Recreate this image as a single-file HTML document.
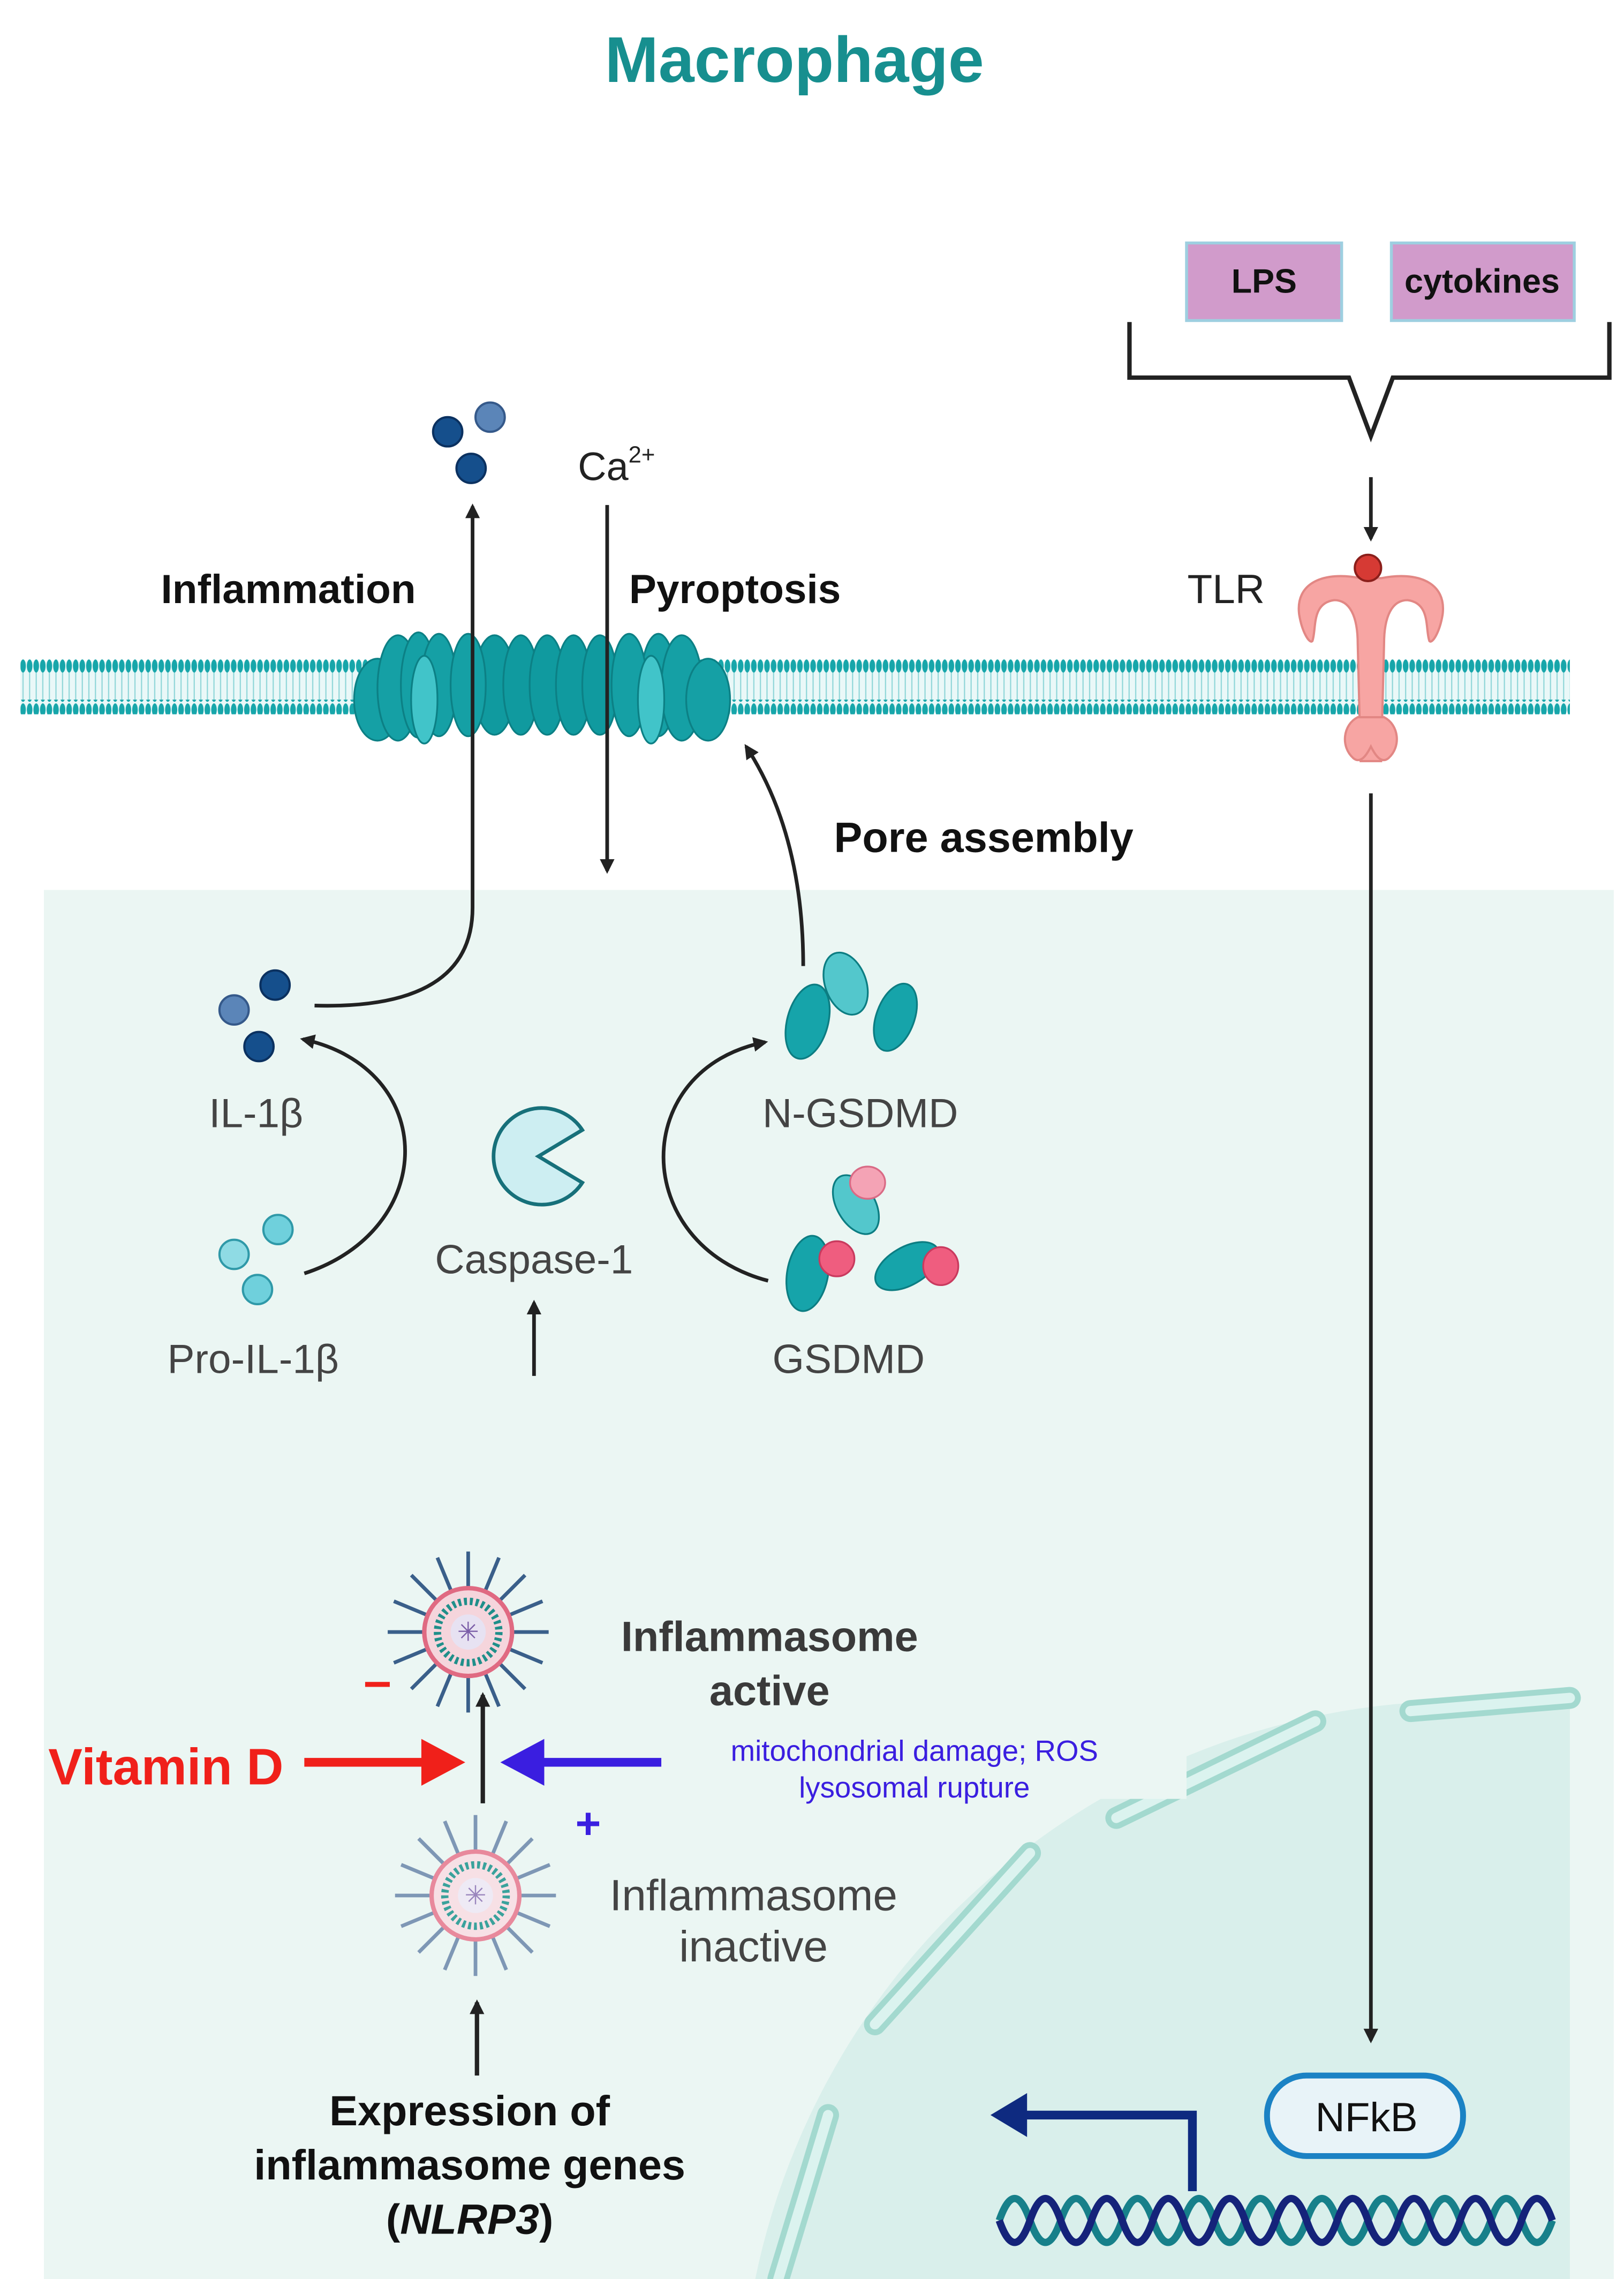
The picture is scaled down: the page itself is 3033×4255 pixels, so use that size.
<!DOCTYPE html>
<html><head><meta charset="utf-8"><style>
html,body{margin:0;padding:0;background:#fff;width:3033px;height:4255px;overflow:hidden}
svg{display:block}
text{font-family:"Liberation Sans",sans-serif}
</style></head><body>
<svg width="3033" height="4255" viewBox="0 0 1110 1557" preserveAspectRatio="none" xmlns="http://www.w3.org/2000/svg">
<defs>
<marker id="ah" markerWidth="10" markerHeight="10" refX="8" refY="5" orient="auto" markerUnits="userSpaceOnUse"><path d="M0,0 L10,5 L0,10 Z" fill="#222"/></marker>
<pattern id="heads" width="4.5" height="10" patternUnits="userSpaceOnUse"><ellipse cx="2.25" cy="5" rx="1.9" ry="4.5" fill="#17a6aa"/></pattern>
<pattern id="tails" width="4.5" height="10" patternUnits="userSpaceOnUse"><line x1="2.25" y1="0" x2="2.25" y2="10" stroke="#8fd6d8" stroke-width="0.8"/></pattern>
<line id="sp" x1="0" y1="-30" x2="0" y2="-55" stroke="#3a5f8a" stroke-width="2.5"/>
<line id="sp2" x1="0" y1="-30" x2="0" y2="-55" stroke="#7e97b5" stroke-width="2.5"/>
<clipPath id="nc"><rect x="30" y="608" width="1043" height="949"/></clipPath>
</defs>

<text x="543" y="56" text-anchor="middle" font-size="44" font-weight="bold" fill="#178f8f">Macrophage</text>

<rect x="811" y="166" width="106" height="53" fill="#d19bcb" stroke="#9ecfe0" stroke-width="2"/>
<text x="864" y="200" text-anchor="middle" font-size="23" font-weight="bold" fill="#111">LPS</text>
<rect x="951" y="166" width="125" height="53" fill="#d19bcb" stroke="#9ecfe0" stroke-width="2"/>
<text x="1013" y="200" text-anchor="middle" font-size="23" font-weight="bold" fill="#111">cytokines</text>
<path d="M772,220 L772,258 L922,258 L937,298 L952,258 L1100,258 L1100,220" fill="none" stroke="#222" stroke-width="3"/>
<line x1="937" y1="326" x2="937" y2="368" stroke="#222" stroke-width="2.5" marker-end="url(#ah)"/>
<text x="838" y="412" text-anchor="middle" font-size="28" fill="#222">TLR</text>

<!-- cytoplasm -->
<rect x="30" y="608" width="1073" height="949" fill="#ebf6f3"/>
<circle cx="1001" cy="1657" r="495" fill="#d9efeb" clip-path="url(#nc)"/>
<g stroke-linecap="round" fill="none">
<g stroke="#a3d9cf" stroke-width="15">
<path d="M532,1557 L566,1445"/><path d="M598,1383 L704,1266"/><path d="M763,1242 L899,1176"/><path d="M964,1169 L1073,1160"/>
</g>
<g stroke="#dbf3ef" stroke-width="7">
<path d="M532,1557 L566,1445"/><path d="M598,1383 L704,1266"/><path d="M763,1242 L899,1176"/><path d="M964,1169 L1073,1160"/>
</g>
</g>
<rect x="480" y="1180" width="331" height="49" fill="#ebf6f3"/>

<!-- membrane -->
<rect x="14" y="452" width="1059" height="34" fill="#eaf8f8"/>
<rect x="14" y="459" width="1059" height="20" fill="url(#tails)"/>
<rect x="14" y="450" width="1059" height="10" fill="url(#heads)"/>
<rect x="14" y="478" width="1059" height="10" fill="url(#heads)"/>

<!-- pore -->
<g stroke="#0c8085" stroke-width="1.2">
<ellipse cx="258" cy="478" rx="16" ry="28" fill="#15a0a5"/>
<ellipse cx="272" cy="470" rx="14" ry="36" fill="#15a0a5"/>
<ellipse cx="286" cy="468" rx="12" ry="36" fill="#15a0a5"/>
<ellipse cx="300" cy="468" rx="12" ry="35" fill="#15a0a5"/>
<ellipse cx="338" cy="468" rx="14" ry="34" fill="#109a9f"/>
<ellipse cx="356" cy="468" rx="12" ry="34" fill="#109a9f"/>
<ellipse cx="374" cy="468" rx="12" ry="34" fill="#109a9f"/>
<ellipse cx="392" cy="468" rx="12" ry="34" fill="#109a9f"/>
<ellipse cx="410" cy="468" rx="12" ry="34" fill="#109a9f"/>
<ellipse cx="450" cy="468" rx="12" ry="35" fill="#15a0a5"/>
<ellipse cx="466" cy="470" rx="14" ry="36" fill="#15a0a5"/>
<ellipse cx="484" cy="478" rx="15" ry="28" fill="#15a0a5"/>
<ellipse cx="320" cy="468" rx="12" ry="35" fill="#15a0a5"/>
<ellipse cx="430" cy="468" rx="12" ry="35" fill="#15a0a5"/>
<ellipse cx="290" cy="478" rx="9" ry="30" fill="#41c4c9"/>
<ellipse cx="445" cy="478" rx="9" ry="30" fill="#41c4c9"/>
</g>

<!-- TLR -->
<g fill="#f7a5a3" stroke="#e28784" stroke-width="1.5">
<path d="M930,395 C905,390 885,398 888,420 C890,432 895,440 897,438 C900,430 896,412 912,410 C922,410 928,420 928,440 L930,520 L944,520 L946,440 C946,420 952,410 962,410 C978,412 974,430 977,438 C979,440 984,432 986,420 C989,398 969,390 944,395 Z"/>
<path d="M928,490 C918,495 916,510 925,518 C930,522 934,516 937,510 C940,516 944,522 949,518 C958,510 956,495 946,490 Z"/>
</g>
<circle cx="935" cy="388" r="9" fill="#d63a34" stroke="#8b1f1b" stroke-width="1.5"/>

<text x="110" y="412" font-size="28" font-weight="bold" fill="#111">Inflammation</text>
<text x="430" y="412" font-size="28" font-weight="bold" fill="#111">Pyroptosis</text>
<text x="395" y="328" font-size="27" fill="#222">Ca<tspan font-size="16" dy="-12">2+</tspan></text>
<circle cx="306" cy="295" r="10" fill="#154f8c" stroke="#0b3160" stroke-width="1.5"/>
<circle cx="335" cy="285" r="10" fill="#5b85b8" stroke="#35598a" stroke-width="1.5"/>
<circle cx="322" cy="320" r="10" fill="#154f8c" stroke="#0b3160" stroke-width="1.5"/>

<path d="M215,687 Q323,690 323,620 L323,346" fill="none" stroke="#222" stroke-width="2.5" marker-end="url(#ah)"/>
<line x1="415" y1="345" x2="415" y2="595" stroke="#222" stroke-width="2.5" marker-end="url(#ah)"/>
<path d="M549,660 Q549,570 510,510" fill="none" stroke="#222" stroke-width="2.5" marker-end="url(#ah)"/>
<text x="570" y="582" font-size="29" font-weight="bold" fill="#111">Pore assembly</text>

<line x1="937" y1="542" x2="937" y2="1394" stroke="#222" stroke-width="2.5" marker-end="url(#ah)"/>
<rect x="866" y="1418" width="134" height="55" rx="27" fill="#e8f3f8" stroke="#1b82c4" stroke-width="4"/>
<text x="934" y="1456" text-anchor="middle" font-size="28" fill="#111">NFkB</text>

<!-- DNA -->
<path d="M683,1517 q10.5,-30 21,0 t21,0 t21,0 t21,0 t21,0 t21,0 t21,0 t21,0 t21,0 t21,0 t21,0 t21,0 t21,0 t21,0 t21,0 t21,0 t21,0 t21,0" fill="none" stroke="#17808a" stroke-width="5"/>
<path d="M683,1517 q10.5,30 21,0 t21,0 t21,0 t21,0 t21,0 t21,0 t21,0 t21,0 t21,0 t21,0 t21,0 t21,0 t21,0 t21,0 t21,0 t21,0 t21,0 t21,0" fill="none" stroke="#15237a" stroke-width="5"/>
<path d="M815,1497 L815,1445 L700,1445" fill="none" stroke="#0e2a80" stroke-width="6"/>
<path d="M677,1445 L702,1430 L702,1460 Z" fill="#0e2a80"/>

<!-- IL-1b -->
<circle cx="188" cy="673" r="10" fill="#154f8c" stroke="#0b3160" stroke-width="1.5"/>
<circle cx="160" cy="690" r="10" fill="#5b85b8" stroke="#35598a" stroke-width="1.5"/>
<circle cx="177" cy="715" r="10" fill="#154f8c" stroke="#0b3160" stroke-width="1.5"/>
<text x="175" y="770" text-anchor="middle" font-size="28" fill="#444">IL-1β</text>
<circle cx="190" cy="840" r="10" fill="#6fd0dc" stroke="#2f99a8" stroke-width="1.5"/>
<circle cx="160" cy="857" r="10" fill="#8fdbe4" stroke="#2f99a8" stroke-width="1.5"/>
<circle cx="176" cy="881" r="10" fill="#6fd0dc" stroke="#2f99a8" stroke-width="1.5"/>
<text x="173" y="938" text-anchor="middle" font-size="28" fill="#444">Pro-IL-1β</text>
<path d="M208,870 C300,840 300,730 207,710" fill="none" stroke="#222" stroke-width="2.5" marker-end="url(#ah)"/>

<path d="M398,772 A33,33 0 1 0 398,808 L368,790 Z" fill="#cdeef2" stroke="#17707a" stroke-width="2.5"/>
<text x="365" y="870" text-anchor="middle" font-size="28" fill="#444">Caspase-1</text>
<line x1="365" y1="940" x2="365" y2="890" stroke="#222" stroke-width="2.5" marker-end="url(#ah)"/>

<g fill="#16a4aa" stroke="#0c7d82" stroke-width="1.2">
<ellipse cx="552" cy="698" rx="14" ry="26" transform="rotate(15 552 698)"/>
<ellipse cx="578" cy="672" rx="14" ry="22" fill="#53c7cc" transform="rotate(-20 578 672)"/>
<ellipse cx="612" cy="695" rx="13" ry="24" transform="rotate(20 612 695)"/>
</g>
<text x="588" y="770" text-anchor="middle" font-size="28" fill="#444">N-GSDMD</text>
<g stroke-width="1.2">
<ellipse cx="585" cy="823" rx="13" ry="22" fill="#53c7cc" stroke="#0c7d82" transform="rotate(-30 585 823)"/>
<ellipse cx="593" cy="808" rx="12" ry="11" fill="#f4a3b5" stroke="#d96a85"/>
<ellipse cx="552" cy="870" rx="14" ry="26" fill="#16a4aa" stroke="#0c7d82" transform="rotate(10 552 870)"/>
<ellipse cx="572" cy="860" rx="12" ry="12" fill="#ef5d7f" stroke="#c93a5e"/>
<ellipse cx="620" cy="865" rx="13" ry="24" fill="#16a4aa" stroke="#0c7d82" transform="rotate(60 620 865)"/>
<ellipse cx="643" cy="865" rx="12" ry="13" fill="#ef5d7f" stroke="#c93a5e"/>
</g>
<text x="580" y="938" text-anchor="middle" font-size="28" fill="#444">GSDMD</text>
<path d="M525,875 C430,850 430,730 523,712" fill="none" stroke="#222" stroke-width="2.5" marker-end="url(#ah)"/>

<g transform="translate(320,1115)">
<use href="#sp"/><use href="#sp" transform="rotate(22.5)"/><use href="#sp" transform="rotate(45)"/><use href="#sp" transform="rotate(67.5)"/><use href="#sp" transform="rotate(90)"/><use href="#sp" transform="rotate(112.5)"/><use href="#sp" transform="rotate(135)"/><use href="#sp" transform="rotate(157.5)"/><use href="#sp" transform="rotate(180)"/><use href="#sp" transform="rotate(202.5)"/><use href="#sp" transform="rotate(225)"/><use href="#sp" transform="rotate(247.5)"/><use href="#sp" transform="rotate(270)"/><use href="#sp" transform="rotate(292.5)"/><use href="#sp" transform="rotate(315)"/><use href="#sp" transform="rotate(337.5)"/>
<circle r="30" fill="#f5d5dc" stroke="#e06a82" stroke-width="3"/>
<circle r="21" fill="none" stroke="#1f8f8a" stroke-width="5" stroke-dasharray="2 2"/>
<circle r="12" fill="#e7e2f2"/>
<text y="6" text-anchor="middle" font-size="18" fill="#7b5ea8">✳</text>
</g>
<g transform="translate(325,1295)">
<use href="#sp2"/><use href="#sp2" transform="rotate(22.5)"/><use href="#sp2" transform="rotate(45)"/><use href="#sp2" transform="rotate(67.5)"/><use href="#sp2" transform="rotate(90)"/><use href="#sp2" transform="rotate(112.5)"/><use href="#sp2" transform="rotate(135)"/><use href="#sp2" transform="rotate(157.5)"/><use href="#sp2" transform="rotate(180)"/><use href="#sp2" transform="rotate(202.5)"/><use href="#sp2" transform="rotate(225)"/><use href="#sp2" transform="rotate(247.5)"/><use href="#sp2" transform="rotate(270)"/><use href="#sp2" transform="rotate(292.5)"/><use href="#sp2" transform="rotate(315)"/><use href="#sp2" transform="rotate(337.5)"/>
<circle r="30" fill="#f7e0e5" stroke="#e8899c" stroke-width="3"/>
<circle r="21" fill="none" stroke="#3aa29c" stroke-width="5" stroke-dasharray="2 2"/>
<circle r="12" fill="#eeeaf5"/>
<text y="6" text-anchor="middle" font-size="18" fill="#9a86bd">✳</text>
</g>

<line x1="330" y1="1232" x2="330" y2="1158" stroke="#222" stroke-width="3" marker-end="url(#ah)"/>
<text x="33" y="1219" font-size="35" font-weight="bold" fill="#f0201a">Vitamin D</text>
<line x1="208" y1="1204" x2="292" y2="1204" stroke="#f0201a" stroke-width="6"/>
<path d="M318,1204 L288,1188 L288,1220 Z" fill="#f0201a"/>
<text x="258" y="1160" text-anchor="middle" font-size="34" font-weight="bold" fill="#f0201a">–</text>
<line x1="452" y1="1204" x2="368" y2="1204" stroke="#3a1ee0" stroke-width="6"/>
<path d="M342,1204 L372,1188 L372,1220 Z" fill="#3a1ee0"/>
<text x="402" y="1256" text-anchor="middle" font-size="30" font-weight="bold" fill="#3a1ee0">+</text>
<text x="526" y="1128" text-anchor="middle" font-size="29" font-weight="bold" fill="#3a3a3a">Inflammasome</text>
<text x="526" y="1165" text-anchor="middle" font-size="29" font-weight="bold" fill="#3a3a3a">active</text>
<text x="625" y="1203" text-anchor="middle" font-size="20" fill="#3a1ee0">mitochondrial damage; ROS</text>
<text x="625" y="1228" text-anchor="middle" font-size="20" fill="#3a1ee0">lysosomal rupture</text>
<text x="515" y="1305" text-anchor="middle" font-size="30" fill="#444">Inflammasome</text>
<text x="515" y="1340" text-anchor="middle" font-size="30" fill="#444">inactive</text>
<line x1="326" y1="1418" x2="326" y2="1368" stroke="#222" stroke-width="3" marker-end="url(#ah)"/>
<text x="321" y="1452" text-anchor="middle" font-size="29" font-weight="bold" fill="#111">Expression of</text>
<text x="321" y="1489" text-anchor="middle" font-size="29" font-weight="bold" fill="#111">inflammasome genes</text>
<text x="321" y="1526" text-anchor="middle" font-size="29" font-weight="bold" fill="#111">(<tspan font-style="italic">NLRP3</tspan>)</text>
</svg>
</body></html>
